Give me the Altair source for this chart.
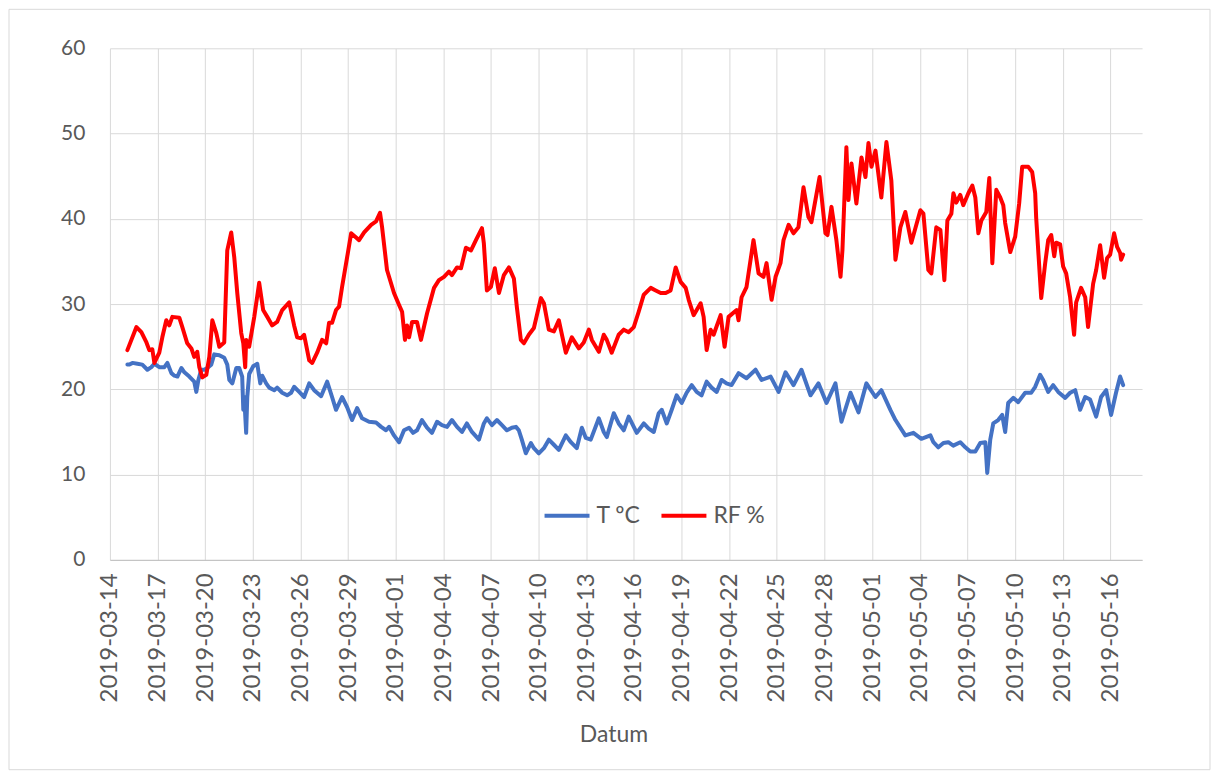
import altair as alt
import pandas as pd

# Days since 2019-03-14 00:00 and values
rf_days = [1.10, 1.67, 1.98, 2.30, 2.48, 2.67, 2.80, 3.11, 3.30, 3.55, 3.74, 3.93, 4.37, 4.56, 4.87,
           5.13, 5.31, 5.50, 5.63, 5.82, 6.07, 6.26, 6.45, 6.70, 6.89, 7.20, 7.39, 7.64, 7.83, 8.02,
           8.27, 8.40, 8.52, 8.58, 8.77, 9.09, 9.40, 9.65, 9.91, 10.22, 10.53, 10.85, 11.29, 11.60,
           11.79, 12.04, 12.23, 12.55, 12.74, 13.05, 13.36, 13.62, 13.80, 13.99, 14.24, 14.43, 14.62,
           14.94, 15.19, 15.50, 15.69, 16.01, 16.45, 16.76, 17.01, 17.14, 17.45, 17.89, 18.21, 18.40,
           18.58, 18.71, 18.84, 19.03, 19.34, 19.59, 19.97, 20.41, 20.72, 21.04, 21.35, 21.54, 21.86,
           22.11, 22.42, 22.74, 23.05, 23.43, 23.55, 23.74, 23.99, 24.24, 24.50, 24.81, 25.13, 25.44,
           25.63, 25.88, 26.07, 26.38, 26.70, 27.14, 27.33, 27.64, 27.96, 28.27, 28.71, 29.09, 29.53,
           29.84, 30.16, 30.35, 30.79, 31.10, 31.29, 31.60, 32.04, 32.36, 32.67, 32.99, 33.30, 33.62,
           34.06, 34.37, 34.69, 35.00, 35.31, 35.63, 35.94, 36.26, 36.45, 36.76, 37.20, 37.39, 37.58,
           37.83, 38.02, 38.46, 38.71, 38.96, 39.47, 39.59, 39.78, 40.09, 40.53, 40.85, 41.16, 41.35,
           41.67, 41.92, 42.23, 42.42, 42.74, 43.05, 43.36, 43.68, 43.99, 44.18, 44.69, 45.06, 45.19,
           45.44, 45.75, 46.01, 46.13, 46.38, 46.51, 46.70, 47.01, 47.33, 47.58, 47.77, 47.96, 48.21,
           48.58, 48.90, 49.21, 49.47, 49.78, 50.09, 50.47, 51.04, 51.23, 51.54, 51.73, 52.04, 52.30,
           52.55, 52.74, 52.99, 53.12, 53.30, 53.55, 53.74, 54.06, 54.31, 54.50, 54.69, 54.88, 55.19,
           55.38, 55.57, 55.82, 56.07, 56.26, 56.38, 56.70, 57.01, 57.26, 57.45, 57.83, 58.08, 58.27,
           58.33, 58.65, 58.90, 59.09, 59.28, 59.47, 59.59, 59.84, 60.03, 60.22, 60.47, 60.72, 60.85,
           61.16, 61.42, 61.60, 61.92, 62.11, 62.36, 62.61, 62.80, 62.99, 63.24, 63.43, 63.62, 63.68,
           63.81]
rf_vals = [24.6, 27.3, 26.7, 25.5, 24.6, 24.7, 23.1, 24.3, 26.1, 28.1, 27.5, 28.5, 28.4, 27.3, 25.4,
           24.8, 23.8, 24.4, 22.6, 21.4, 21.7, 23.8, 28.1, 26.6, 25.0, 25.5, 36.3, 38.4, 35.5, 31.3,
           26.6, 25.4, 22.6, 25.8, 25.0, 28.5, 32.5, 29.3, 28.5, 27.5, 27.9, 29.3, 30.2, 27.5,
           26.1, 26.0, 26.4, 23.4, 23.1, 24.3, 25.8, 25.4, 27.8, 27.8, 29.3, 29.7, 32.0,
           35.5, 38.3, 37.8, 37.5, 38.4, 39.3, 39.7, 40.7, 39.0, 34.0, 31.3, 29.9, 29.1,
           25.8, 27.5, 26.1, 27.9, 27.9, 25.8, 28.9, 31.9, 32.8, 33.2, 33.8, 33.4, 34.3,
           34.2, 36.6, 36.3, 37.5, 38.9, 37.1, 31.6, 32.0, 34.2, 31.3, 33.4, 34.3, 33.0,
           29.6, 25.8, 25.4, 26.4, 27.2, 30.7, 30.1, 27.0, 26.8, 28.1, 24.3, 26.1, 24.8,
           25.5, 27.0, 25.8, 24.4, 26.4, 25.8, 24.3, 26.4, 27.0, 26.7, 27.3, 29.1, 31.1,
           31.9, 31.6, 31.3, 31.3, 31.6, 34.3, 32.6, 31.9, 30.5, 28.7, 30.1, 28.5, 24.6,
           27.0, 26.4, 28.7, 25.0, 28.5, 29.3, 28.1, 30.8, 32.0, 37.5, 33.6, 33.2, 34.8,
           30.5, 33.2, 34.8, 37.5, 39.3, 38.3, 39.0, 43.7, 40.2, 39.6, 44.9, 38.3, 38.1,
           41.4, 37.5, 33.2, 36.3, 48.4, 42.2, 46.5, 41.8, 47.2, 44.9, 48.9, 46.1, 48.0,
           42.5, 49.0, 44.5, 35.2, 39.0, 40.8, 37.2, 41.0, 40.6, 34.0, 33.6, 39.0, 38.7,
           32.8, 39.8, 40.6, 43.0, 41.9, 42.8, 41.6, 43.0, 43.9, 42.5, 38.3, 39.8, 40.8,
           44.8, 34.8, 43.4, 42.5, 41.6, 39.5, 36.1, 37.9, 41.8, 46.1, 46.1, 45.5, 43.0,
           40.2, 30.7, 34.8, 37.5, 38.1, 35.6, 37.2, 37.0, 34.4, 33.6, 30.8, 26.4, 30.2,
           31.9, 30.8, 27.3, 32.4, 34.0, 36.9, 33.1, 35.4, 35.8, 38.3, 36.7, 36.0, 35.2,
           35.8]

t_days = [1.10, 1.23, 1.42, 1.73, 2.04, 2.36, 2.61, 2.80, 3.11, 3.43, 3.62, 3.87, 4.06, 4.25, 4.50,
          4.69, 5.00, 5.31, 5.44, 5.57, 5.75, 5.94, 6.13, 6.38, 6.57, 6.89, 7.20, 7.39, 7.52, 7.71,
          7.96, 8.14, 8.33, 8.40, 8.46, 8.58, 8.65, 8.77, 9.02, 9.28, 9.47, 9.59, 9.84, 10.03, 10.35,
          10.53, 10.85, 11.16, 11.41, 11.60, 11.92, 12.23, 12.55, 12.86, 13.30, 13.68, 13.99, 14.24,
          14.62, 14.94, 15.25, 15.57, 15.88, 16.32, 16.76, 17.08, 17.39, 17.58, 17.89, 18.21, 18.52,
          18.84, 19.09, 19.34, 19.65, 19.97, 20.28, 20.60, 20.91, 21.23, 21.54, 21.86, 22.17, 22.48,
          22.80, 23.24, 23.55, 23.74, 24.06, 24.37, 24.69, 25.00, 25.31, 25.57, 25.75, 25.94, 26.19,
          26.51, 26.70, 27.01, 27.33, 27.64, 27.96, 28.27, 28.71, 29.03, 29.40, 29.72, 29.97, 30.28,
          30.79, 31.10, 31.29, 31.73, 32.04, 32.36, 32.67, 32.99, 33.18, 33.62, 33.93, 34.25, 34.56,
          34.75, 35.07, 35.38, 35.69, 36.01, 36.32, 36.64, 36.95, 37.26, 37.58, 37.89, 38.21, 38.52,
          38.83, 39.15, 39.59, 40.09, 40.66, 41.04, 41.61, 42.11, 42.55, 43.05, 43.55, 44.12, 44.62,
          45.13, 45.69, 46.07, 46.64, 47.14, 47.64, 48.21, 48.58, 49.15, 49.47, 50.09, 50.60, 51.10,
          51.67, 51.86, 52.17, 52.49, 52.80, 53.11, 53.55, 53.87, 54.18, 54.50, 54.81, 55.13, 55.25,
          55.44, 55.63, 55.94, 56.19, 56.38, 56.57, 56.89, 57.20, 57.64, 58.02, 58.27, 58.58, 58.77,
          59.09, 59.40, 59.72, 60.16, 60.47, 60.79, 61.10, 61.42, 61.73, 62.11, 62.42, 62.74, 63.05,
          63.36, 63.62, 63.81]
t_vals = [22.9, 22.9, 23.1, 23.0, 22.9, 22.3, 22.6, 23.0, 22.6, 22.6, 23.1, 21.9, 21.6, 21.5, 22.5,
          22.0, 21.5, 20.9, 19.7, 21.1, 22.3, 22.3, 22.5, 22.9, 24.1, 24.0, 23.7, 22.9, 21.1, 20.7,
          22.5, 22.5, 21.5, 17.6, 19.1, 14.9, 19.1, 21.8, 22.7, 23.0, 20.7, 21.6, 20.7, 20.2, 19.9,
          20.2, 19.6, 19.3, 19.6, 20.3, 19.7, 19.1, 20.7, 19.9, 19.2, 20.9, 19.1, 17.6,
          19.1, 17.9, 16.4, 17.8, 16.6, 16.2, 16.1, 15.6, 15.2, 15.6, 14.6, 13.8, 15.2,
          15.5, 14.9, 15.2, 16.4, 15.5, 14.9, 16.2, 15.8, 15.6, 16.4, 15.6, 15.0, 16.0,
          15.0, 14.1, 16.0, 16.6, 15.8, 16.4, 15.8, 15.2, 15.5, 15.6, 15.2, 14.1, 12.5,
          13.7, 13.1, 12.5, 13.1, 14.1, 13.5, 12.9, 14.6, 13.8, 13.1, 15.5, 14.3, 14.1,
          16.6, 15.0, 14.4, 17.2, 16.0, 15.2, 16.8, 15.6, 14.9, 16.0, 15.4, 15.0, 17.2,
          17.6, 16.0, 17.6, 19.3, 18.4, 19.6, 20.5, 19.7, 19.3, 20.9, 20.2, 19.7, 21.1,
          20.7, 20.5, 21.9, 21.3, 22.3, 21.1, 21.5, 19.7, 22.0, 20.5, 22.3, 19.3, 20.7,
          18.4, 20.7, 16.2, 19.6, 17.3, 20.7, 19.1, 19.9, 17.6, 16.4, 14.6, 14.9, 14.2,
          14.6, 13.8, 13.2, 13.7, 13.8, 13.4, 13.8, 13.2, 12.7, 12.7, 13.7, 13.8, 10.2,
          14.1, 16.0, 16.4, 17.0, 15.0, 18.4, 19.0, 18.5, 19.6, 19.6, 20.3, 21.7, 21.1,
          19.7, 20.5, 19.7, 19.0, 19.6, 19.9, 17.6, 19.1, 18.8, 16.8, 19.1, 19.9, 17.0,
          19.6, 21.5, 20.5]

series_names = ["T ºC", "RF %"]
series_colors = ["#4472C4", "#FF0000"]
y_ticks = [0, 10, 20, 30, 40, 50, 60]
tick_step_days = 3
n_ticks = 22

start = pd.Timestamp("2019-03-14")


def make_frame(days, vals, name):
    return pd.DataFrame({
        "Datum": [start + pd.Timedelta(days=d) for d in days],
        "value": vals,
        "series": name,
    })


df = pd.concat([make_frame(t_days, t_vals, series_names[0]),
                make_frame(rf_days, rf_vals, series_names[1])], ignore_index=True)

tick_dates = [start + pd.Timedelta(days=tick_step_days * i) for i in range(n_ticks)]
tick_values = [alt.DateTime(year=t.year, month=t.month, date=t.day) for t in tick_dates]
x_domain = [alt.DateTime(year=2019, month=3, date=14), alt.DateTime(year=2019, month=5, date=18)]

FONT = "Lato"
GRAY = "#595959"
GRID = "#d9d9d9"

PW, PH = 1033, 512

lines = alt.Chart(df).mark_line(strokeWidth=4, strokeJoin="round", strokeCap="round").encode(
    x=alt.X("Datum:T",
            scale=alt.Scale(domain=x_domain, nice=False),
            axis=alt.Axis(values=tick_values, format="%Y-%m-%d", labelAngle=-90,
                          labelAlign="right", labelBaseline="middle",
                          labelFontSize=24, labelColor=GRAY, labelFont=FONT,
                          labelPadding=13, ticks=False, domainColor="#bfbfbf",
                          gridColor=GRID, grid=True, labelOverlap=False,
                          title="Datum", titleFontSize=23, titleColor=GRAY,
                          titleFont=FONT, titleFontWeight="normal", titlePadding=22,
                          titleX=504)),
    y=alt.Y("value:Q",
            scale=alt.Scale(domain=[0, 60], nice=False),
            axis=alt.Axis(values=y_ticks, domain=False, ticks=False, labelFontSize=21,
                          labelColor=GRAY, labelFont=FONT, labelPadding=25,
                          gridColor=GRID, title=None)),
    color=alt.Color("series:N",
                    scale=alt.Scale(domain=series_names, range=series_colors),
                    legend=alt.Legend(title=None, orient="none", direction="horizontal",
                                      legendX=433, legendY=443,
                                      symbolType="stroke", symbolSize=2025,
                                      symbolStrokeWidth=4, labelFontSize=23,
                                      labelColor=GRAY, labelFont=FONT,
                                      labelOffset=5, columnPadding=12)),
)

border = alt.Chart(pd.DataFrame({"a": [0]})).mark_rect(
    fillOpacity=0, stroke="#d9d9d9", strokeWidth=1
).encode(x=alt.value(-101), x2=alt.value(1101), y=alt.value(-39), y2=alt.value(722))

chart = alt.layer(lines, border).properties(
    width=PW, height=PH,
    autosize=alt.AutoSizeParams(type="none"),
    padding={"left": 102, "top": 40, "right": 70, "bottom": 220},
    background="white",
).configure_view(stroke=None)

chart.save("out.html", embed_options={"renderer": "svg", "actions": False})
